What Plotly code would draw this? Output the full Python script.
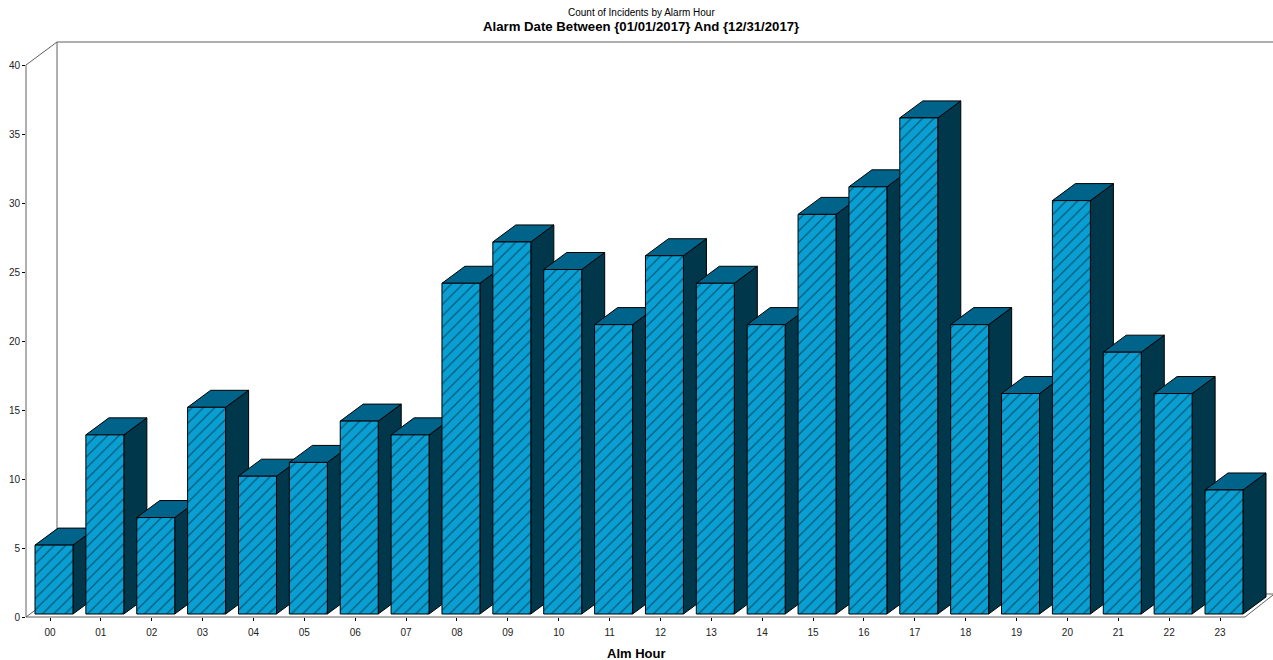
import plotly.graph_objects as go

hours = ["00","01","02","03","04","05","06","07","08","09","10","11",
         "12","13","14","15","16","17","18","19","20","21","22","23"]
counts = [5,13,7,15,10,11,14,13,24,27,25,21,26,24,21,29,31,36,21,16,30,19,16,9]
y_ticks = [0,5,10,15,20,25,30,35,40]

W, H = 1273, 660
L, R, T, B = 26, 1273, 42, 617      # plot rectangle in page pixels
PX_Y = 13.78                         # pixels per count
PX_X = 50.87                         # pixels per hour
BASE_SHIFT = 3                       # bars sit slightly above the axis line
DEPTH_X, DEPTH_Y = 23/PX_X, 17/PX_Y  # pseudo-3D depth in data units
BAR_W = 38/PX_X

FACE, TOPC, SIDE = "#0a9fd2", "#00638a", "#00374b"
GREY = "#606060"

def xr(c0):
    return [-(c0-L)/PX_X, (R-c0)/PX_X]

y_top = (B-T)/PX_Y
fig = go.Figure()

# invisible trace so the tick-bearing base axes exist
fig.add_trace(go.Scatter(x=list(range(len(hours))), y=counts, mode="markers",
                         marker=dict(opacity=0), hoverinfo="skip", showlegend=False))

half = BAR_W/2
for i, v in enumerate(counts):
    xl, xr_ = i-half, i+half
    # side face
    fig.add_trace(go.Scatter(
        x=[xr_, xr_+DEPTH_X, xr_+DEPTH_X, xr_, xr_],
        y=[0, DEPTH_Y, v+DEPTH_Y, v, 0],
        fill="toself", fillcolor=SIDE, mode="lines",
        line=dict(color="#000000", width=1),
        xaxis="x2", yaxis="y2", hoverinfo="skip", showlegend=False))
    # top face
    fig.add_trace(go.Scatter(
        x=[xl, xr_, xr_+DEPTH_X, xl+DEPTH_X, xl],
        y=[v, v, v+DEPTH_Y, v+DEPTH_Y, v],
        fill="toself", fillcolor=TOPC, mode="lines",
        line=dict(color="#000000", width=1),
        xaxis="x2", yaxis="y2", hoverinfo="skip", showlegend=False))

fig.add_trace(go.Bar(
    x=list(range(len(hours))), y=counts, width=BAR_W,
    marker=dict(color=FACE, line=dict(color="#000000", width=1),
                pattern=dict(shape="/", size=8, solidity=0.16,
                             fgcolor="#00141c", bgcolor=FACE)),
    xaxis="x3", yaxis="y3", showlegend=False))

def px(x): return (x-L)/(R-L)
def py(y): return (B-y)/(B-T)

frame = [
    (26,65,26,617), (26,65,57,42), (57,42,1273,42), (57,42,57,594),
    (26,617,1245,617), (26,617,57,594), (57,594,1273,594), (1245,617,1273,595),
]
shapes = [dict(type="line", xref="paper", yref="paper", layer="below",
               x0=px(a), y0=py(b), x1=px(c), y1=py(d),
               line=dict(color=GREY, width=1)) for a,b,c,d in frame]

font = dict(family="Liberation Sans, Arial, sans-serif", color="#000000")
tick_font = dict(family="Liberation Sans, Arial, sans-serif", color="#222222", size=10)
def note(text, x, y, size, bold=False):
    return dict(text=f"<b>{text}</b>" if bold else text, x=px(x), y=py(y),
                xref="paper", yref="paper", showarrow=False,
                xanchor="center", yanchor="middle",
                font=dict(size=size, **font))

hidden = dict(visible=False, showgrid=False, zeroline=False, fixedrange=True)
fig.update_layout(
    width=W, height=H, autosize=False,
    margin=dict(l=L, r=W-R, t=T, b=H-B, pad=0),
    paper_bgcolor="#ffffff", plot_bgcolor="rgba(0,0,0,0)",
    shapes=shapes,
    annotations=[
        note("Count of Incidents by Alarm Hour", 641, 12, 10),
        note("Alarm Date Between {01/01/2017} And {12/31/2017}", 640.5, 27, 13.2, True),
        note("Alm Hour", 636, 653, 13, True),
    ],
    xaxis=dict(range=xr(50), tickmode="array", tickvals=list(range(len(hours))),
               ticktext=hours, ticks="outside", ticklen=3, tickcolor="#000000",
               tickfont=tick_font, showgrid=False, zeroline=False,
               showline=False, ticklabelstandoff=3),
    yaxis=dict(range=[0, y_top], tickmode="array", tickvals=y_ticks,
               ticks="outside", ticklen=3, tickcolor="#000000",
               tickfont=tick_font, showgrid=False, zeroline=False,
               showline=False),
    xaxis2=dict(range=xr(54), overlaying="x", **hidden),
    yaxis2=dict(range=[-BASE_SHIFT/PX_Y, y_top-BASE_SHIFT/PX_Y], overlaying="y", **hidden),
    xaxis3=dict(range=xr(54), overlaying="x", **hidden),
    yaxis3=dict(range=[-BASE_SHIFT/PX_Y, y_top-BASE_SHIFT/PX_Y], overlaying="y", **hidden),
)

fig.write_html("out.html", post_script="document.body.style.margin='0';",
               config=dict(displayModeBar=False))
